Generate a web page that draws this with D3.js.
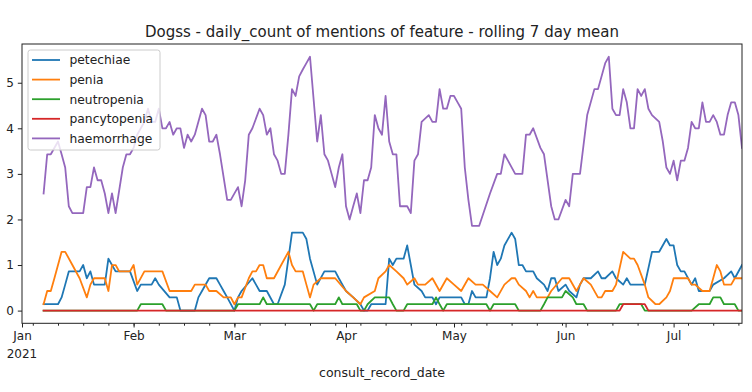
<!DOCTYPE html>
<html><head><meta charset="utf-8">
<script src="https://cdn.jsdelivr.net/npm/d3@7"></script>
<style>body{margin:0;background:#fff} svg{display:block} text{font-family:"DejaVu Sans",sans-serif;fill:#222}</style>
</head><body>
<svg id="c" width="752" height="392"></svg>
<script>
const titleText = "Dogss - daily_count of mentions of feature - rolling 7 day mean";
const xLabelText = "consult_record_date";
const seriesNames = ["petechiae","penia","neutropenia","pancytopenia","haemorrhage"];
const seriesColors = ["#1f77b4","#ff7f0e","#2ca02c","#d62728","#9467bd"];
const yTicks = [0,1,2,3,4,5];
const monthTicks = ["2021-01-01","2021-02-01","2021-03-01","2021-04-01","2021-05-01","2021-06-01","2021-07-01"];
const monthLabels = ["Jan","Feb","Mar","Apr","May","Jun","Jul"];
const yearLabel = "2021";
const dateRange = ["2021-01-01","2021-07-20"];

const petechiae = [["01-07",0.14],["01-11",0.14],["01-12",0.29],["01-13",0.57],["01-14",0.86],["01-17",0.86],["01-18",1.00],["01-19",0.71],["01-20",0.86],["01-21",0.57],["01-24",0.57],["01-25",1.14],["01-26",1.00],["01-27",0.86],["01-31",0.86],["02-02",0.43],["02-03",0.57],["02-06",0.57],["02-07",0.71],["02-08",0.57],["02-11",0.29],["02-13",0.29],["02-14",0.00],["02-18",0.00],["02-19",0.29],["02-20",0.43],["02-22",0.71],["02-24",0.71],["02-25",0.57],["02-26",0.43],["02-27",0.29],["03-01",0.00],["03-02",0.29],["03-03",0.43],["03-06",0.71],["03-07",0.57],["03-08",0.43],["03-10",0.43],["03-12",0.14],["03-13",0.14],["03-15",0.57],["03-17",1.71],["03-20",1.71],["03-21",1.57],["03-22",1.14],["03-24",0.57],["03-26",0.86],["03-29",0.86],["03-30",0.71],["03-31",0.57],["04-01",0.43],["04-03",0.29],["04-05",0.14],["04-06",0.00],["04-07",0.00],["04-08",0.14],["04-12",0.14],["04-13",1.14],["04-14",1.00],["04-15",1.14],["04-17",1.14],["04-18",1.43],["04-19",1.00],["04-20",0.57],["04-22",0.43],["04-23",0.29],["04-25",0.29],["04-26",0.14],["04-27",0.29],["05-03",0.29],["05-04",0.14],["05-05",0.14],["05-06",0.43],["05-07",0.29],["05-10",0.29],["05-11",0.71],["05-12",1.29],["05-13",1.00],["05-14",1.14],["05-15",1.43],["05-17",1.71],["05-18",1.57],["05-19",1.00],["05-20",1.00],["05-21",0.86],["05-23",0.86],["05-24",0.71],["05-26",0.57],["05-27",0.43],["05-28",0.71],["05-29",0.71],["05-30",0.43],["06-01",0.57],["06-02",0.43],["06-04",0.29],["06-05",0.57],["06-06",0.71],["06-08",0.71],["06-10",0.86],["06-11",0.71],["06-12",0.71],["06-14",0.86],["06-15",0.71],["06-17",0.57],["06-18",0.71],["06-19",0.57],["06-23",0.57],["06-25",1.29],["06-27",1.29],["06-29",1.57],["06-30",1.43],["07-01",1.43],["07-02",1.00],["07-03",0.86],["07-04",0.86],["07-06",0.57],["07-07",0.71],["07-08",0.43],["07-11",0.43],["07-12",0.57],["07-15",0.71],["07-17",0.86],["07-18",0.71],["07-20",1.00]];

const penia = [["01-07",0.14],["01-08",0.43],["01-09",0.43],["01-10",0.71],["01-12",1.29],["01-13",1.29],["01-15",1.00],["01-17",0.71],["01-19",0.29],["01-20",0.57],["01-21",0.71],["01-24",0.71],["01-25",0.43],["01-26",1.00],["01-27",1.00],["01-28",0.86],["01-31",0.86],["02-01",1.00],["02-02",0.57],["02-04",0.86],["02-09",0.86],["02-11",0.43],["02-17",0.43],["02-18",0.57],["02-21",0.57],["02-22",0.43],["02-24",0.43],["02-26",0.29],["02-28",0.29],["03-01",0.14],["03-02",0.29],["03-03",0.29],["03-05",0.71],["03-06",0.86],["03-07",0.86],["03-08",1.00],["03-09",1.00],["03-10",0.71],["03-12",0.71],["03-14",1.00],["03-16",1.29],["03-17",1.00],["03-18",0.86],["03-20",0.86],["03-21",0.57],["03-22",0.29],["03-23",0.57],["03-25",0.71],["03-29",0.71],["04-01",0.43],["04-03",0.29],["04-05",0.14],["04-06",0.29],["04-09",0.43],["04-10",0.71],["04-12",0.86],["04-13",1.00],["04-15",0.86],["04-17",0.71],["04-18",0.57],["04-20",0.71],["04-21",0.57],["04-23",0.57],["04-25",0.71],["04-27",0.43],["04-29",0.71],["05-01",0.57],["05-03",0.43],["05-05",0.71],["05-07",0.57],["05-09",0.57],["05-11",0.43],["05-13",0.29],["05-15",0.57],["05-17",0.71],["05-18",0.71],["05-19",0.57],["05-21",0.43],["05-22",0.29],["05-23",0.43],["05-24",0.29],["05-27",0.29],["05-28",0.43],["05-31",0.71],["06-02",0.71],["06-04",0.43],["06-05",0.57],["06-06",0.71],["06-08",0.57],["06-10",0.29],["06-11",0.29],["06-12",0.43],["06-14",0.43],["06-15",0.57],["06-17",1.29],["06-19",1.14],["06-20",1.14],["06-21",1.00],["06-23",0.57],["06-24",0.29],["06-26",0.14],["06-27",0.14],["06-29",0.29],["06-30",0.43],["07-01",0.71],["07-05",0.71],["07-06",0.57],["07-07",0.57],["07-09",0.43],["07-11",0.43],["07-12",0.71],["07-13",1.00],["07-14",0.86],["07-15",0.57],["07-17",0.57],["07-18",0.71],["07-20",0.71]];

const neutropenia = [["01-07",0],["02-02",0],["02-03",0.14],["02-09",0.14],["02-10",0],["03-01",0],["03-02",0.14],["03-08",0.14],["03-09",0.29],["03-10",0.14],["03-22",0.14],["03-23",0],["03-24",0.14],["03-29",0.14],["03-30",0.29],["03-31",0.14],["04-04",0.14],["04-05",0],["04-06",0],["04-07",0.14],["04-09",0.29],["04-13",0.29],["04-14",0.14],["04-15",0],["04-17",0],["04-18",0.14],["04-25",0.14],["04-26",0.29],["04-27",0.14],["04-28",0],["04-29",0.14],["05-10",0.14],["05-11",0],["05-12",0.14],["05-18",0.14],["05-19",0],["05-25",0],["05-26",0.14],["05-27",0.29],["05-31",0.29],["06-01",0.43],["06-03",0.29],["06-04",0.14],["06-06",0.14],["06-07",0],["06-15",0],["06-16",0.14],["06-22",0.14],["06-23",0],["07-06",0],["07-08",0.14],["07-11",0.14],["07-12",0.29],["07-14",0.29],["07-15",0.14],["07-18",0.14],["07-19",0],["07-20",0]];

const pancytopenia = [["01-07",0],["06-16",0],["06-17",0.14],["06-23",0.14],["06-24",0],["07-20",0]];

const haemorrhage = [["01-07",2.57],["01-08",3.43],["01-09",3.43],["01-11",3.71],["01-12",3.43],["01-13",3.14],["01-14",2.29],["01-15",2.14],["01-18",2.14],["01-19",2.71],["01-20",2.71],["01-21",3.14],["01-22",2.86],["01-23",2.86],["01-24",2.57],["01-25",2.14],["01-26",2.57],["01-27",2.14],["01-29",3.14],["01-30",3.43],["01-31",3.43],["02-01",3.57],["02-02",3.86],["02-03",4.00],["02-04",4.14],["02-05",4.43],["02-06",4.14],["02-07",4.14],["02-08",4.43],["02-09",4.00],["02-10",4.00],["02-11",4.14],["02-12",3.86],["02-13",4.00],["02-14",4.00],["02-15",3.57],["02-16",3.86],["02-17",3.71],["02-18",3.86],["02-20",4.43],["02-21",4.29],["02-22",3.71],["02-23",3.71],["02-24",3.86],["02-25",3.43],["02-27",2.43],["02-28",2.43],["03-02",2.71],["03-03",2.29],["03-04",2.86],["03-05",3.86],["03-06",4.00],["03-08",4.43],["03-09",4.29],["03-10",3.86],["03-11",4.00],["03-12",3.43],["03-13",3.29],["03-14",3.00],["03-15",3.00],["03-16",3.86],["03-17",4.86],["03-18",4.71],["03-19",5.14],["03-20",5.29],["03-21",5.43],["03-22",5.57],["03-24",3.71],["03-25",4.29],["03-26",3.43],["03-27",3.29],["03-28",3.00],["03-29",2.71],["03-30",3.14],["03-31",3.43],["04-01",2.29],["04-02",2.00],["04-03",2.29],["04-04",2.57],["04-05",2.14],["04-06",2.86],["04-07",2.86],["04-08",3.14],["04-09",4.29],["04-10",4.00],["04-11",3.86],["04-12",4.71],["04-13",3.71],["04-14",3.43],["04-15",3.43],["04-16",2.29],["04-18",2.29],["04-19",2.14],["04-20",3.29],["04-21",3.43],["04-22",4.14],["04-24",4.29],["04-25",4.14],["04-26",4.14],["04-27",4.86],["04-28",4.43],["04-29",4.43],["04-30",4.71],["05-01",4.71],["05-02",4.57],["05-03",4.43],["05-04",3.14],["05-05",2.43],["05-06",1.86],["05-08",1.86],["05-11",2.57],["05-13",3.00],["05-14",3.00],["05-15",3.43],["05-16",3.29],["05-18",3.00],["05-20",3.00],["05-21",3.86],["05-22",3.86],["05-23",4.00],["05-25",3.57],["05-26",3.43],["05-28",2.29],["05-29",2.00],["05-30",2.00],["06-01",2.43],["06-02",2.29],["06-03",3.00],["06-05",3.00],["06-07",4.29],["06-09",4.86],["06-10",4.86],["06-12",5.43],["06-13",5.57],["06-14",4.43],["06-15",4.29],["06-16",4.29],["06-17",4.86],["06-18",4.57],["06-19",4.00],["06-20",4.00],["06-21",4.86],["06-22",4.71],["06-23",4.86],["06-24",4.43],["06-25",4.29],["06-27",4.14],["06-28",3.71],["06-29",3.14],["06-30",3.00],["07-01",3.29],["07-02",2.86],["07-03",3.29],["07-04",3.29],["07-05",3.57],["07-06",4.14],["07-07",4.00],["07-08",4.00],["07-09",4.57],["07-10",4.14],["07-11",4.14],["07-12",4.29],["07-13",4.14],["07-14",3.86],["07-15",3.86],["07-16",4.29],["07-17",4.57],["07-18",4.57],["07-19",4.29],["07-20",3.57]];

const seriesData = [petechiae, penia, neutropenia, pancytopenia, haemorrhage];

const parse = s => new Date(s.length === 5 ? "2021-" + s + "T00:00:00Z" : s + "T00:00:00Z");
const svg = d3.select("#c");
const L = 22, R = 742, T = 44, B = 323.3;

const x = d3.scaleUtc().domain(dateRange.map(parse)).range([L, R]);
const y = d3.scaleLinear().domain([-0.2786, 5.85]).range([B, T]);

svg.append("defs").append("clipPath").attr("id","clip")
  .append("rect").attr("x",L).attr("y",T).attr("width",R-L).attr("height",B-T);

// title
svg.append("text").attr("x",(L+R)/2).attr("y",37).attr("text-anchor","middle")
  .style("font-size","15px").text(titleText);

// lines
const line = d3.line().x(d => x(parse(d[0]))).y(d => y(d[1]));
const g = svg.append("g").attr("clip-path","url(#clip)");
seriesData.forEach((s,i) => {
  g.append("path").datum(s).attr("d", line).attr("fill","none")
    .attr("stroke", seriesColors[i]).attr("stroke-width",1.8)
    .attr("stroke-linejoin","round").attr("stroke-linecap","square");
});

// y axis
const yAxis = d3.axisLeft(y).tickValues(yTicks).tickSize(4.2).tickPadding(4).tickFormat(d3.format("d"));
const gy = svg.append("g").attr("transform",`translate(${L},0)`).call(yAxis);
gy.select(".domain").remove();
gy.selectAll("line").attr("stroke","#222");
gy.selectAll("text").style("font-size","12px").style("font-family","DejaVu Sans").attr("fill","#222");

// x minor ticks (weekly)
const minor = d3.utcMonday.range(parse(dateRange[0]), d3.utcDay.offset(parse(dateRange[1]),1));
const gxm = svg.append("g").attr("transform",`translate(0,${B})`)
  .call(d3.axisBottom(x).tickValues(minor).tickSize(2.4).tickFormat(""));
gxm.select(".domain").remove();
gxm.selectAll("line").attr("stroke","#222");

// x major ticks
const gx = svg.append("g").attr("transform",`translate(0,${B})`)
  .call(d3.axisBottom(x).tickValues(monthTicks.map(parse)).tickSize(4.2).tickPadding(4)
    .tickFormat((d,i) => monthLabels[i]));
gx.select(".domain").remove();
gx.selectAll("line").attr("stroke","#222");
gx.selectAll("text").style("font-size","12px").style("font-family","DejaVu Sans").attr("fill","#222");
gx.append("text").attr("x", x(parse(monthTicks[0]))).attr("y", 34.5).attr("text-anchor","middle")
  .style("font-size","12px").attr("fill","#222").text(yearLabel);

// x label
svg.append("text").attr("x",(L+R)/2).attr("y",377).attr("text-anchor","middle")
  .style("font-size","12.5px").text(xLabelText);

// frame
svg.append("rect").attr("x",L).attr("y",T).attr("width",R-L).attr("height",B-T)
  .attr("fill","none").attr("stroke","#222").attr("stroke-width",1);

// legend
const lg = svg.append("g");
lg.append("rect").attr("x",28).attr("y",50).attr("width",132).attr("height",100).attr("rx",2.5)
  .attr("fill","#fff").attr("fill-opacity",0.8).attr("stroke","#ccc").attr("stroke-width",1);
seriesNames.forEach((n,i) => {
  const cy = 60 + i*19.6;
  lg.append("line").attr("x1",32).attr("x2",60).attr("y1",cy).attr("y2",cy)
    .attr("stroke",seriesColors[i]).attr("stroke-width",1.8);
  lg.append("text").attr("x",69.5).attr("y",cy+4.3).style("font-size","12.3px").text(n);
});
</script>
</body></html>
